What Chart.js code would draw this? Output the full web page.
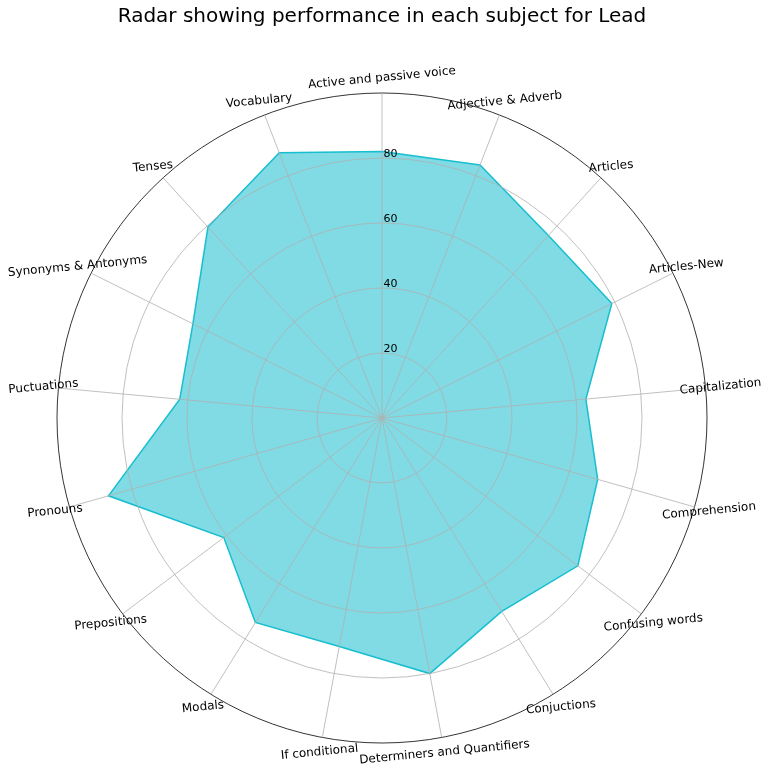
<!DOCTYPE html>
<html>
<head>
<meta charset="utf-8">
<script src="https://cdn.jsdelivr.net/npm/chart.js@4.4.1/dist/chart.umd.min.js"></script>
<style>
  html, body { margin: 0; padding: 0; background: #fff; }
</style>
</head>
<body>
<canvas id="myChart" width="769" height="775"></canvas>
<script>
// subjects go clockwise from the top
const subjects = [
  'Active and passive voice', 'Adjective & Adverb', 'Articles', 'Articles-New',
  'Capitalization', 'Comprehension', 'Confusing words', 'Conjuctions',
  'Determiners and Quantifiers', 'If conditional', 'Modals', 'Prepositions',
  'Pronouns', 'Puctuations', 'Synonyms & Antonyms', 'Tenses', 'Vocabulary'
];
const scores = [82, 83.5, 76, 79, 63, 69, 75.5, 70, 80, 71.5, 74, 61, 87.5, 62.5, 65, 79.5, 87.5];
const tickValues = [20, 40, 60, 80];
const rMax = 100;

const textPlugin = {
  id: 'radarText',
  afterDraw(chart) {
    const scale = chart.scales.r;
    const ctx = chart.ctx;
    ctx.save();
    ctx.fillStyle = '#000';
    // r tick labels sit just right of the vertical line
    ctx.font = '11px "DejaVu Sans"';
    ctx.textAlign = 'left';
    ctx.textBaseline = 'alphabetic';
    tickValues.forEach(v => {
      const y = scale.yCenter - scale.getDistanceFromCenterForValue(v);
      ctx.fillText(String(v), scale.xCenter + 1.5, y - 1);
    });
    // subject names, slightly tilted like the original
    ctx.font = '12px "DejaVu Sans"';
    ctx.textAlign = 'center';
    ctx.textBaseline = 'middle';
    subjects.forEach((s, i) => {
      const p = scale.getPointPosition(i, scale.drawingArea + 15);
      ctx.save();
      ctx.translate(p.x, p.y);
      ctx.rotate(-5.5 * Math.PI / 180);
      ctx.fillText(s, 0, 0);
      ctx.restore();
    });
    ctx.restore();
  }
};

const ctx = document.getElementById('myChart').getContext('2d');
new Chart(ctx, {
  type: 'radar',
  data: {
    labels: subjects,
    datasets: [{
      label: 'Lead',
      data: scores,
      borderColor: '#17becf',
      backgroundColor: 'rgba(23, 190, 207, 0.55)',
      borderWidth: 1.5,
      pointRadius: 0,
      pointHoverRadius: 0,
      fill: true,
      tension: 0
    }]
  },
  options: {
    responsive: false,
    animation: false,
    layout: { padding: { left: 57, right: 62, top: 0, bottom: 32 } },
    plugins: {
      legend: { display: false },
      tooltip: { enabled: false },
      title: {
        display: true,
        text: 'Radar showing performance in each subject for Lead',
        color: '#000',
        font: { family: 'DejaVu Sans', size: 20, weight: 'normal' },
        padding: { top: 5, bottom: 64 }
      }
    },
    scales: {
      r: {
        min: 0,
        max: rMax,
        ticks: { display: false, stepSize: 20 },
        pointLabels: { display: false },
        grid: {
          z: 1,
          circular: true,
          color: c => (c.tick && c.tick.value === rMax ? '#000' : '#b0b0b0'),
          lineWidth: 0.8
        },
        angleLines: { color: '#b0b0b0', lineWidth: 0.8 }
      }
    }
  },
  plugins: [textPlugin]
});
</script>
</body>
</html>
